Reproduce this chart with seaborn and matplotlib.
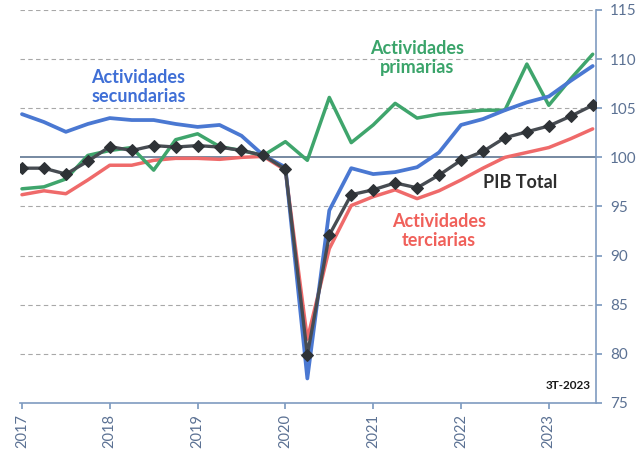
import numpy as np
import pandas as pd
import matplotlib
matplotlib.use("Agg")
import matplotlib.pyplot as plt
import seaborn as sns

# Quarterly data, 1T-2017 .. 3T-2023
years = [2017, 2018, 2019, 2020, 2021, 2022, 2023]
quarters = [f"{y}-Q{q}" for y in range(2017, 2024) for q in range(1, 5)][:27]

pib_total = [98.9, 98.9, 98.3, 99.6, 101.1, 100.7, 101.2, 101.05, 101.2, 101.05,
             100.7, 100.2, 98.8, 79.9, 92.1, 96.2, 96.7, 97.4, 96.9, 98.2,
             99.7, 100.6, 102.0, 102.6, 103.2, 104.2, 105.3]
secundarias = [104.4, 103.6, 102.6, 103.4, 104.0, 103.8, 103.8, 103.4, 103.1, 103.3,
               102.2, 100.2, 99.0, 77.5, 94.6, 98.9, 98.3, 98.5, 99.0, 100.5,
               103.3, 103.9, 104.8, 105.6, 106.2, 107.8, 109.3]
primarias = [96.8, 97.0, 97.8, 100.2, 100.7, 101.0, 98.7, 101.8, 102.4, 101.1,
             100.7, 100.2, 101.6, 99.7, 106.1, 101.5, 103.3, 105.5, 104.0, 104.4,
             104.6, 104.8, 104.8, 109.5, 105.3, 108.0, 110.5]
terciarias = [96.2, 96.6, 96.3, 97.7, 99.2, 99.2, 99.7, 99.9, 99.9, 99.8,
              100.0, 100.1, 98.7, 81.5, 90.7, 95.1, 96.0, 96.7, 95.8, 96.6,
              97.7, 98.9, 100.0, 100.5, 101.0, 101.9, 102.9]

df = pd.DataFrame({
    "q": np.arange(len(quarters)),
    "PIB Total": pib_total,
    "Secundarias": secundarias,
    "Primarias": primarias,
    "Terciarias": terciarias,
})

sns.set_theme(style="white")
plt.rcParams["font.family"] = ["Lato", "DejaVu Sans"]

fig = plt.figure(figsize=(6.4, 4.55), dpi=100)
ax = fig.add_axes([20/640, 1-403/455, (596-20)/640, (403-10)/455])

tick_col = "#5b7193"
grid_col = "#a8a8a8"

# grid lines
for v in [80, 85, 90, 95, 105, 110, 115]:
    ax.axhline(v, color=grid_col, lw=0.8, ls=(0, (4, 3)), zorder=0)
ax.axhline(100, color="#5f7591", lw=1.2, zorder=0)

red = "#ef6a6a"
green = "#3fa56c"
blue = "#4a78d2"
dark = "#474c52"

sns.lineplot(data=df, x="q", y="Terciarias", ax=ax, color=red, lw=2.5, zorder=2)
sns.lineplot(data=df, x="q", y="Primarias", ax=ax, color=green, lw=2.5, zorder=3)
sns.lineplot(data=df, x="q", y="Secundarias", ax=ax, color=blue, lw=2.7, zorder=4)
sns.lineplot(data=df, x="q", y="PIB Total", ax=ax, color=dark, lw=2.4, zorder=5,
             marker="D", markersize=6.5, markerfacecolor="#2e3236",
             markeredgecolor="#2e3236")

ax.set_xlim(-0.09, 26.15)
ax.set_ylim(75, 115)
ax.set_xlabel("")
ax.set_ylabel("")

ax.yaxis.tick_right()
ax.set_yticks([75, 80, 85, 90, 95, 100, 105, 110, 115])
ax.set_yticklabels([str(v) for v in [75, 80, 85, 90, 95, 100, 105, 110, 115]])
ax.set_xticks([4 * i for i in range(len(years))])
ax.set_xticklabels([str(y) for y in years], rotation=90)

ax.tick_params(axis="y", which="both", right=True, left=False, length=4,
               color="#7f9bc0", labelcolor=tick_col, labelsize=11, pad=6)
ax.tick_params(axis="x", bottom=True, length=4, color="#7f9bc0",
               labelcolor=tick_col, labelsize=10.5, pad=4)

for s in ["left", "top"]:
    ax.spines[s].set_visible(False)
ax.spines["right"].set_color("#7f9bc0")
ax.spines["bottom"].set_color("#7f9bc0")
ax.spines["right"].set_linewidth(1.2)
ax.spines["bottom"].set_linewidth(1.2)

# annotations
ax.text(5.3, 107.2, "Actividades\nsecundarias", color="#3f6fd6", fontsize=13,
        fontweight="bold", ha="center", va="center", linespacing=1.15)
ax.text(18.0, 110.1, "Actividades\nprimarias", color="#3aa46a", fontsize=13,
        fontweight="bold", ha="center", va="center", linespacing=1.15)
ax.text(22.7, 97.4, "PIB Total", color="#2e2e2e", fontsize=13,
        fontweight="bold", ha="center", va="center")
ax.text(19.0, 92.5, "Actividades\nterciarias", color="#f0605a", fontsize=13,
        fontweight="bold", ha="center", va="center", linespacing=1.15)
ax.text(25.9, 76.8, "3T-2023", color="#1a1a1a", fontsize=8.5,
        fontweight="bold", ha="right", va="center")

fig.savefig("out.png", dpi=100, facecolor="white")
